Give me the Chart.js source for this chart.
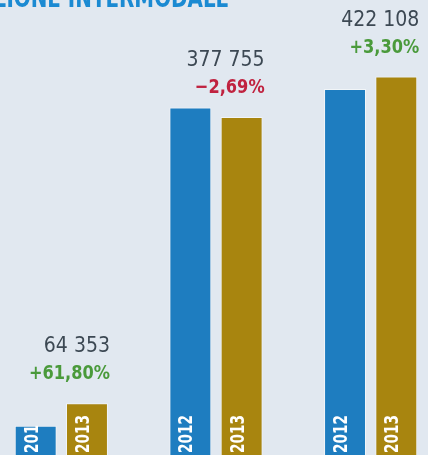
<!DOCTYPE html>
<html>
<head>
<meta charset="utf-8">
<script src="https://cdn.jsdelivr.net/npm/chart.js@4"></script>
<style>
    html, body { margin: 0; padding: 0; }
    body { width: 428px; height: 455px; overflow: hidden; position: relative; background: #e1e8f0; }
    #wrap { position: absolute; left: -16px; top: 0; width: 464px; height: 462px; }
</style>
</head>
<body>
<div id="wrap"><canvas id="chart"></canvas></div>
<script>
    // --- DATA ---
    const categories = ['Gruppo 1', 'Gruppo 2', 'Gruppo 3'];
    const years = ['2012', '2013'];
    const values2012 = [39773, 388197, 408623];
    const values2013 = [64353, 377755, 422108];
    const changes = [61.80, -2.69, 3.30];
    const titleText = 'ZIONE INTERMODALE';
    // --- END DATA ---

    const BLUE = '#1e7dc0';
    const GOLD = '#a8850f';
    const COND = "'DejaVu Sans Condensed', 'DejaVu Sans', sans-serif";

    function formatValue(v) {
        return String(v).replace(/\B(?=(\d{3})+(?!\d))/g, ' ');
    }

    function formatChange(c) {
        const s = Math.abs(c).toFixed(2).replace('.', ',') + '%';
        return (c >= 0 ? '+' : '\u2212') + s;
    }

    // draws text squeezed horizontally to look like a narrow face
    function narrowText(ctx, text, x, y, squeeze) {
        ctx.save();
        ctx.translate(x, y);
        ctx.scale(squeeze, 1);
        ctx.fillText(text, 0, 0);
        ctx.restore();
    }

    const labelsPlugin = {
        id: 'labels',
        afterDatasetsDraw(chart) {
            const ctx = chart.ctx;

            // year labels inside bars, clipped to bar
            chart.data.datasets.forEach((ds, di) => {
                const meta = chart.getDatasetMeta(di);
                meta.data.forEach(bar => {
                    const left = bar.x - bar.width / 2;
                    ctx.save();
                    ctx.beginPath();
                    ctx.rect(left, bar.y, bar.width, bar.base - bar.y);
                    ctx.clip();
                    ctx.translate(bar.x + 2, 453);
                    ctx.rotate(-Math.PI / 2);
                    ctx.fillStyle = '#ffffff';
                    ctx.font = 'bold 20px ' + COND;
                    ctx.textAlign = 'left';
                    ctx.textBaseline = 'alphabetic';
                    narrowText(ctx, years[di], 0, 0, 0.76);
                    ctx.restore();
                });
            });

            // value + change above each group
            const meta13 = chart.getDatasetMeta(1);
            meta13.data.forEach((bar, i) => {
                const right = bar.x + bar.width / 2 + 2;
                const pctBase = bar.y - 24;
                ctx.save();
                ctx.textAlign = 'right';
                ctx.textBaseline = 'alphabetic';
                ctx.fillStyle = changes[i] >= 0 ? '#4a9a3b' : '#c0223f';
                ctx.font = 'bold 20px ' + COND;
                narrowText(ctx, formatChange(changes[i]), right, pctBase, 0.9);
                ctx.fillStyle = '#3c4853';
                ctx.font = '21px ' + COND;
                ctx.fillText(formatValue(values2013[i]), right, pctBase - 27);
                ctx.restore();
            });

            // cropped heading
            ctx.save();
            ctx.fillStyle = '#1b8ad2';
            ctx.font = 'bold 26px ' + COND;
            ctx.textAlign = 'left';
            ctx.textBaseline = 'alphabetic';
            narrowText(ctx, titleText, 8, 7, 0.85);
            ctx.restore();
        }
    };

    new Chart(document.getElementById('chart'), {
        type: 'bar',
        data: {
            labels: categories,
            datasets: [
                { label: years[0], data: values2012, backgroundColor: BLUE },
                { label: years[1], data: values2013, backgroundColor: GOLD }
            ]
        },
        options: {
            responsive: true,
            maintainAspectRatio: false,
            animation: false,
            layout: { padding: 0 },
            categoryPercentage: 0.663,
            barPercentage: 0.818,
            borderWidth: 1,
            borderColor: 'rgba(255,255,255,0.55)',
            scales: {
                x: { display: false },
                y: { display: false, min: 0, max: 506000 }
            },
            plugins: {
                legend: { display: false },
                tooltip: { enabled: false }
            }
        },
        plugins: [labelsPlugin]
    });
</script>
</body>
</html>
